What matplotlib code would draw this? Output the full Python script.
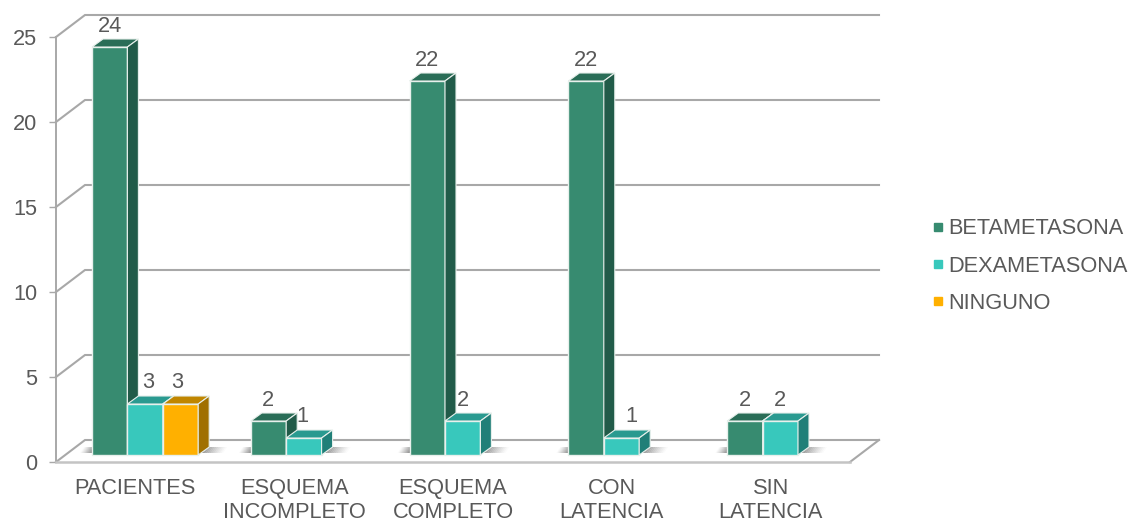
import numpy as np
import matplotlib
matplotlib.use('Agg')
import matplotlib.pyplot as plt
from matplotlib.lines import Line2D
from matplotlib.patches import Polygon

plt.rcParams['font.family'] = ['Liberation Sans', 'DejaVu Sans']

# DATA
categories = ['PACIENTES', 'ESQUEMA\nINCOMPLETO', 'ESQUEMA\nCOMPLETO', 'CON\nLATENCIA', 'SIN\nLATENCIA']
series_names = ['BETAMETASONA', 'DEXAMETASONA', 'NINGUNO']
betametasona = [24, 2, 22, 22, 2]
dexametasona = [3, 1, 2, 1, 2]
ninguno = [3, 0, 0, 0, 0]
y_ticks = [0, 5, 10, 15, 20, 25]

# front, top, side
COLORS = [
    ('#378B70', '#2A6D57', '#215B49'),
    ('#38C8BC', '#2A9A90', '#207F78'),
    ('#FFB000', '#C08600', '#A07000'),
]
GREY = '#A8A8A8'
TEXT = '#595959'
FS = 15.7

# CONFIG, in pixels of the 1145x523 picture
W, H = 1145, 523
LEFT, RIGHT, TOP, BOTTOM = 56, 850, 37, 462
PX_X = 5 / (RIGHT - LEFT)
PX_Y = 25 / (BOTTOM - TOP)

WALL_DX, WALL_DY = 29 * PX_X, 22 * PX_Y
BAR_DX, BAR_DY = 11 * PX_X, 8 * PX_Y
BAR_W = 35.4 * PX_X
BAR_START = 36 * PX_X
BASE = 7 * PX_Y
LABEL_NUDGE = {(0, 1): 3, (0, 2): -3, (1, 0): -1, (1, 1): -2, (3, 1): 10}


def draw_shadow(ax, x0, x1):
    """Floor shadow fading away from the bar, in thin strips"""
    n = 14
    xs = np.linspace(x0, x1, n + 1)
    for i in range(n):
        a = 0.75 * (1 - i / n) ** 1.3
        x_a, x_b = xs[i], xs[i + 1]
        ax.add_patch(Polygon(
            [(x_a, BASE + 2 * PX_Y), (x_b, BASE + 2 * PX_Y), (x_b + 4 * PX_X, BASE + 8 * PX_Y), (x_a + 4 * PX_X, BASE + 8 * PX_Y)],
            closed=True, facecolor='#555555', edgecolor='none', alpha=a, zorder=2))


fig = plt.figure(figsize=(W / 100, H / 100), dpi=100)
ax = fig.add_axes([LEFT / W, 1 - BOTTOM / H, (RIGHT - LEFT) / W, (BOTTOM - TOP) / H])
ax.set_xlim(0, 5)
ax.set_ylim(0, 25)
ax.patch.set_alpha(0)

for name in ('top', 'right'):
    ax.spines[name].set_visible(False)
ax.spines['left'].set_color(GREY)
ax.spines['left'].set_linewidth(1.4)
ax.spines['bottom'].set_color('#C4C4C4')
ax.spines['bottom'].set_linewidth(1.8)

# back wall lines
for tick in y_ticks:
    ax.plot([0, WALL_DX, 5 + WALL_DX], [tick, tick + WALL_DY, tick + WALL_DY],
            color=GREY, lw=1.5, clip_on=False, zorder=1, solid_joinstyle='miter')
ax.plot([5, 5 + WALL_DX], [0, WALL_DY], color=GREY, lw=1.5, clip_on=False, zorder=1)

# bars
x_centers = np.arange(len(categories))
series = [betametasona, dexametasona, ninguno]
for i in x_centers:
    values = [s[i] for s in series]
    n_bars = sum(v > 0 for v in values)
    group_left = i + BAR_START
    draw_shadow(ax, group_left + n_bars * BAR_W, group_left + n_bars * BAR_W + 25 * PX_X)
    draw_shadow(ax, group_left, group_left - 12 * PX_X)
    for j, v in enumerate(values):
        if v == 0:
            continue
        x0 = group_left + j * BAR_W
        x1 = x0 + BAR_W
        y1 = BASE + v
        front, top, side = COLORS[j]
        ax.bar(x0, v, BAR_W, bottom=BASE, align='edge', color=front,
               edgecolor='#E8F0EC', linewidth=1.0, clip_on=False, zorder=3)
        ax.add_patch(Polygon([(x0, y1), (x0 + BAR_DX, y1 + BAR_DY), (x1 + BAR_DX, y1 + BAR_DY), (x1, y1)],
                             closed=True, facecolor=top, edgecolor='#E8F0EC', lw=0.8, clip_on=False, zorder=3))
        ax.add_patch(Polygon([(x1, BASE), (x1 + BAR_DX, BASE + BAR_DY), (x1 + BAR_DX, y1 + BAR_DY), (x1, y1)],
                             closed=True, facecolor=side, edgecolor='#E8F0EC', lw=0.8, clip_on=False, zorder=3))
        ax.annotate(str(v), (x0 + BAR_W / 2, y1), xytext=(LABEL_NUDGE.get((i, j), 0) * 0.72, 21 * 0.72),
                    textcoords='offset points', ha='center', va='center',
                    fontsize=FS, color=TEXT, zorder=5, annotation_clip=False)

ax.set_yticks(y_ticks)
ax.tick_params(axis='y', length=5, width=1, color=GREY, labelsize=FS, labelcolor=TEXT, pad=8.5)
ax.set_xticks(x_centers + 0.5)
ax.set_xticklabels(categories, linespacing=1.2)
ax.tick_params(axis='x', length=0, labelsize=FS, labelcolor=TEXT, pad=11.5)

handles = [Line2D([], [], linestyle='none', marker='s', markersize=5.8, color=COLORS[k][0]) for k in range(3)]
fig.legend(handles, series_names, loc='center left', bbox_to_anchor=(927.6 / W, 1 - 266 / H), frameon=False,
           fontsize=FS, labelcolor=TEXT, labelspacing=0.75, handletextpad=0.0, handlelength=0.95,
           borderpad=0, borderaxespad=0)

fig.savefig('out.png', dpi=100)
